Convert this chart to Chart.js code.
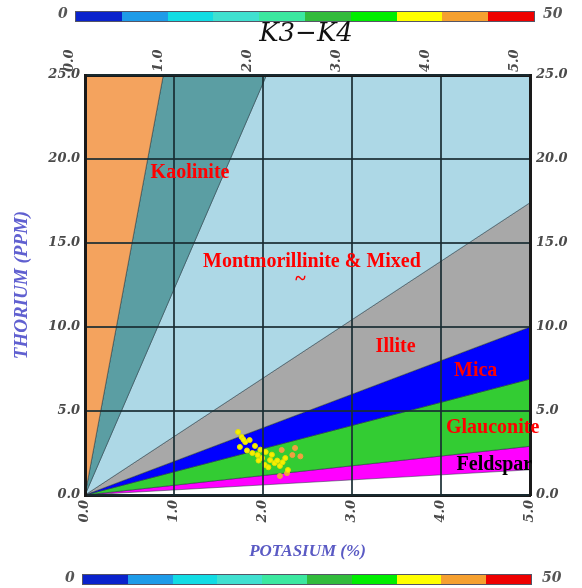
<!DOCTYPE html>
<html>
<head>
<meta charset="utf-8">
<script src="https://cdn.jsdelivr.net/npm/chart.js@4.4.0/dist/chart.umd.min.js"></script>
<style>
  body { margin: 0; background: #fff; }
  #wrap { position: relative; width: 582px; height: 588px; }
  .bar { position: absolute; height: 9px; display: flex; border: 1px solid #556; }
  .bar span { flex: 1; }
  .lab { position: absolute; font: bold italic 14px "DejaVu Serif"; color: #555; }
  #title { position: absolute; top: 17px; left: 0; width: 612px; text-align: center;
           font: italic 26px "DejaVu Serif"; color: #111; }
</style>
</head>
<body>
<div id="wrap">
  <canvas id="chart" width="582" height="588"></canvas>
  <div class="lab" style="left:58px;top:5px">0</div>
  <div class="bar" id="barTop" style="left:75px;top:11px;width:458px"></div>
  <div class="lab" style="left:543px;top:5px">50</div>
  <div id="title">K3−K4</div>
  <div class="lab" style="left:65px;top:569px">0</div>
  <div class="bar" id="barBottom" style="left:82px;top:574px;width:448px"></div>
  <div class="lab" style="left:542px;top:569px">50</div>
</div>
<script>
// axis ticks
const kTickLabels = ["0.0", "1.0", "2.0", "3.0", "4.0", "5.0"];
const thTickLabels = ["0.0", "5.0", "10.0", "15.0", "20.0", "25.0"];

// zone boundaries: lines from origin to these points on the frame
const boundaryK = [0, 0.88, 2.04, 5, 5, 5, 5, 5];
const boundaryTh = [25, 25, 25, 17.4, 10, 6.9, 2.9, 1.5];
const zoneColors = ["#f4a35e", "#5b9ea3", "#add8e6", "#a8a8a8", "#0000ff", "#33cc33", "#ff00ff"];

// zone labels
const zoneLabels = ["Kaolinite", "Montmorillinite & Mixed", "~", "Illite", "Mica", "Glauconite", "Feldspar"];
const zoneLabelK = [1.18, 2.55, 2.42, 3.49, 4.39, 4.58, 4.6];
const zoneLabelTh = [19.2, 13.9, 12.8, 8.8, 7.4, 4.0, 1.8];
const zoneLabelColors = ["#ff0000", "#ff0000", "#ff0000", "#ff0000", "#ff0000", "#ff0000", "#000000"];

// sample points K3-K4
const yellowK = [1.72, 1.76, 1.80, 1.74, 1.85, 1.88, 1.94, 1.99, 2.03, 2.08, 2.13, 2.02, 2.19, 2.25, 2.28, 1.91, 1.97, 2.10, 2.16, 1.82, 1.95, 2.06, 2.22, 1.78];
const yellowTh = [3.75, 3.45, 3.15, 2.86, 3.27, 2.5, 2.38, 2.2, 2.56, 2.08, 1.9, 1.79, 1.73, 2.2, 1.49, 2.92, 2.7, 2.4, 2.05, 2.65, 2.05, 1.65, 1.95, 3.3];
const orangeK = [2.33, 2.21, 2.36, 2.19, 2.42, 2.27];
const orangeTh = [2.38, 2.68, 2.8, 1.13, 2.3, 1.3];

const barColors = ["#0a22cc", "#1e9be8", "#12dce4", "#40e0d0", "#3ce8a0", "#32bb3c", "#00ee00", "#ffff00", "#f5a030", "#ee0000"];

const kMax = 5, thMax = 25;

["barTop", "barBottom"].forEach(function (id) {
  const el = document.getElementById(id);
  barColors.forEach(function (c) {
    const s = document.createElement("span");
    s.style.background = c;
    el.appendChild(s);
  });
});

function zonePoly(i) {
  const pts = [{ x: 0, y: 0 }, { x: boundaryK[i], y: boundaryTh[i] }];
  if (boundaryTh[i] === thMax && boundaryK[i + 1] === kMax && boundaryTh[i + 1] < thMax) {
    pts.push({ x: kMax, y: thMax });
  }
  pts.push({ x: boundaryK[i + 1], y: boundaryTh[i + 1] });
  pts.push({ x: 0, y: 0 });
  return pts;
}

const datasets = [];
zoneColors.forEach(function (c, i) {
  datasets.push({
    data: zonePoly(i),
    showLine: true,
    fill: "shape",
    backgroundColor: c,
    borderColor: "rgba(30,50,60,0.5)",
    borderWidth: 1,
    pointRadius: 0,
    order: 2,
  });
});
datasets.push({
  data: yellowK.map((k, i) => ({ x: k, y: yellowTh[i] })),
  backgroundColor: "#f5f000",
  borderColor: "#e8e000",
  pointRadius: 2.5,
  order: 0,
});
datasets.push({
  data: orangeK.map((k, i) => ({ x: k, y: orangeTh[i] })),
  backgroundColor: "#f0a040",
  borderColor: "#f0a040",
  pointRadius: 2.5,
  order: 1,
});

const zoneText = {
  id: "zoneText",
  afterDraw(chart) {
    const ctx = chart.ctx;
    const xs = chart.scales.x, ys = chart.scales.y;
    ctx.save();
    ctx.font = "bold 20px 'Liberation Serif'";
    ctx.textAlign = "center";
    ctx.textBaseline = "middle";
    zoneLabels.forEach(function (t, i) {
      ctx.fillStyle = zoneLabelColors[i];
      ctx.fillText(t, xs.getPixelForValue(zoneLabelK[i]), ys.getPixelForValue(zoneLabelTh[i]));
    });
    ctx.restore();
  },
};

const tickFont = { family: "DejaVu Serif", size: 13, style: "italic", weight: "bold" };
const gridStyle = { color: "rgba(25,45,50,0.85)", lineWidth: 2, drawTicks: false, z: 1 };
const borderStyle = { display: true, color: "#1a1a1a", width: 3, z: 1 };

const chart = new Chart(document.getElementById("chart").getContext("2d"), {
  type: "scatter",
  data: { datasets: datasets },
  plugins: [zoneText],
  options: {
    responsive: false,
    animation: false,
    layout: { padding: 0 },
    plugins: {
      legend: { display: false },
      tooltip: { enabled: false },
    },
    scales: {
      x: {
        type: "linear",
        position: "bottom",
        min: 0,
        max: kMax,
        afterFit: (s) => { s.height = 93; },
        ticks: {
          stepSize: 1,
          minRotation: 90,
          maxRotation: 90,
          padding: 5,
          color: "#4a4a4a",
          font: tickFont,
          callback: (v, i) => kTickLabels[i],
        },
        grid: gridStyle,
        border: borderStyle,
        title: {
          display: true,
          text: "POTASIUM (%)",
          color: "#5a5ac4",
          font: { family: "Liberation Serif", size: 17, style: "italic", weight: "bold" },
          padding: { top: 0, bottom: 26 },
        },
      },
      x2: {
        type: "linear",
        position: "top",
        min: 0,
        max: kMax,
        afterFit: (s) => { s.height = 75; },
        ticks: {
          stepSize: 1,
          minRotation: 90,
          maxRotation: 90,
          padding: 3,
          color: "#4a4a4a",
          font: tickFont,
          callback: (v, i) => kTickLabels[i],
        },
        grid: { display: false, drawTicks: false },
        border: borderStyle,
      },
      y: {
        type: "linear",
        position: "left",
        min: 0,
        max: thMax,
        afterFit: (s) => { s.width = 85; },
        ticks: {
          stepSize: 5,
          padding: 5,
          color: "#4a4a4a",
          font: tickFont,
          callback: (v, i) => thTickLabels[i],
        },
        grid: gridStyle,
        border: borderStyle,
        title: {
          display: true,
          text: "THORIUM (PPM)",
          color: "#6060d0",
          font: { family: "Liberation Serif", size: 19, style: "italic", weight: "bold" },
          padding: { top: 11, bottom: 0 },
        },
      },
      y2: {
        type: "linear",
        position: "right",
        min: 0,
        max: thMax,
        afterFit: (s) => { s.width = 52; },
        ticks: {
          stepSize: 5,
          padding: 6,
          color: "#4a4a4a",
          font: tickFont,
          callback: (v, i) => thTickLabels[i],
        },
        grid: { display: false, drawTicks: false },
        border: borderStyle,
      },
    },
  },
});
</script>
</body>
</html>
